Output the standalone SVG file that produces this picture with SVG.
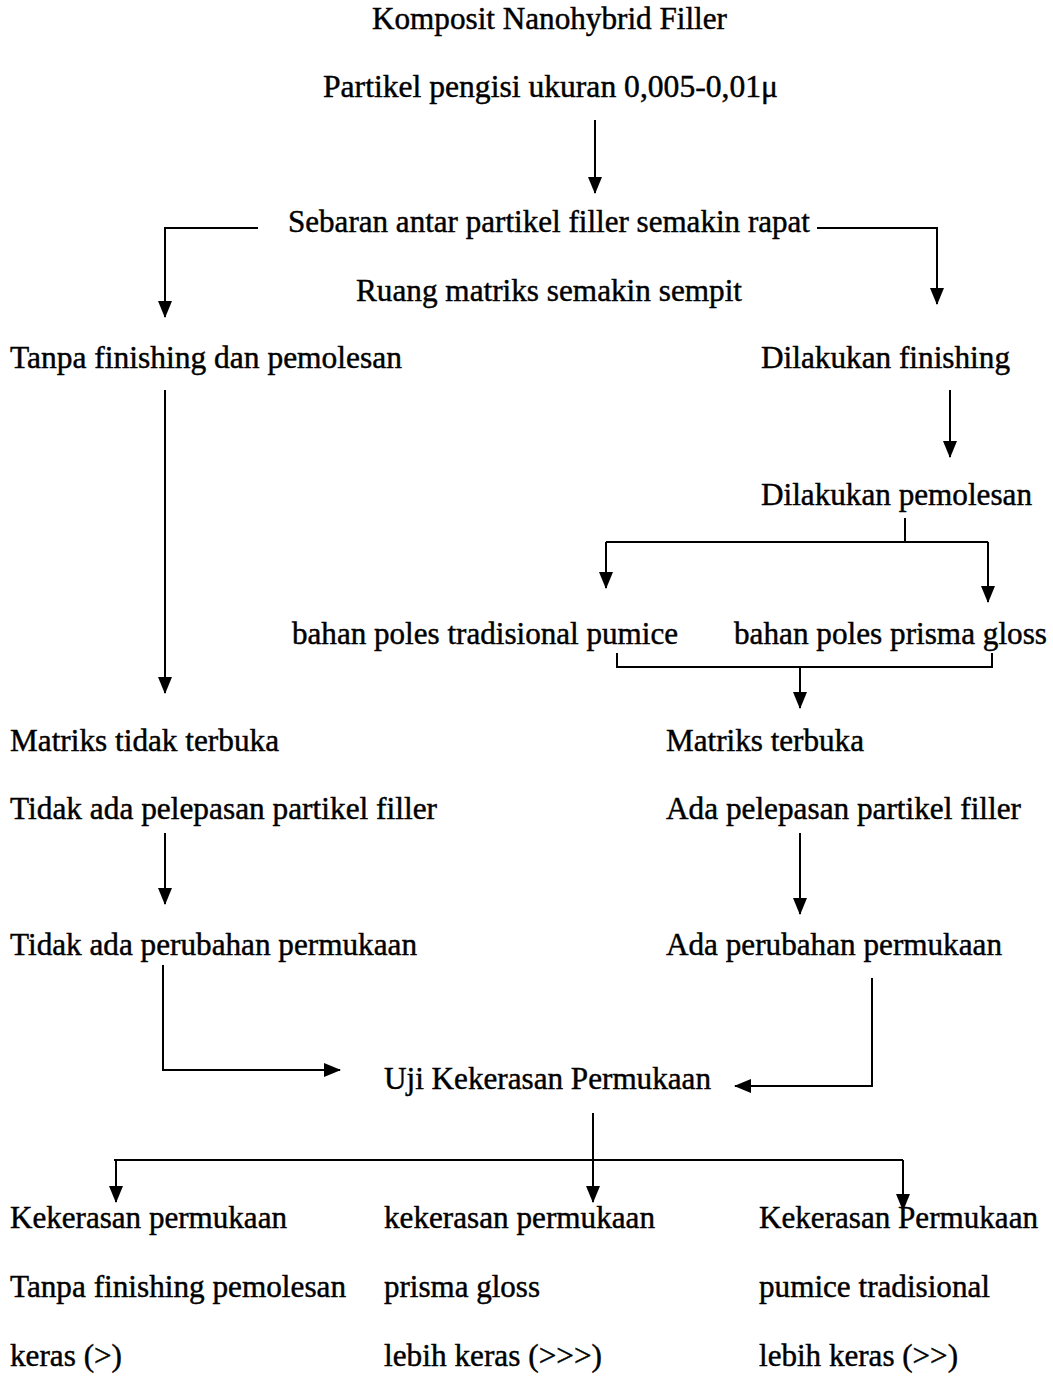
<svg xmlns="http://www.w3.org/2000/svg" width="1053" height="1378" viewBox="0 0 1053 1378">
<style>
text{font-family:"Liberation Serif","Times New Roman",serif;font-size:32px;fill:#000;stroke:#000;stroke-width:0.45}
.c{fill:none;stroke:#000;stroke-width:2}
</style>
<defs>
<marker id="ah" viewBox="0 0 17 14" refX="16" refY="7" markerWidth="17" markerHeight="14" markerUnits="userSpaceOnUse" orient="auto">
<path d="M0,0 L17,7 L0,14 z" fill="#000"/>
</marker>
</defs>
<rect width="1053" height="1378" fill="#fff"/>
<g id="n1"><text x="372" y="29" textLength="355" lengthAdjust="spacingAndGlyphs">Komposit Nanohybrid Filler</text></g>
<g id="n2"><text x="323" y="97" textLength="455" lengthAdjust="spacingAndGlyphs">Partikel pengisi ukuran 0,005-0,01μ</text></g>
<g id="n3"><text x="288" y="232" textLength="522" lengthAdjust="spacingAndGlyphs">Sebaran antar partikel filler semakin rapat</text>
<text x="356" y="301" textLength="386" lengthAdjust="spacingAndGlyphs">Ruang matriks semakin sempit</text></g>
<g id="n4"><text x="10" y="368" textLength="392" lengthAdjust="spacingAndGlyphs">Tanpa finishing dan pemolesan</text></g>
<g id="n5"><text x="761" y="368" textLength="249" lengthAdjust="spacingAndGlyphs">Dilakukan finishing</text></g>
<g id="n6"><text x="761" y="505" textLength="271" lengthAdjust="spacingAndGlyphs">Dilakukan pemolesan</text></g>
<g id="n7"><text x="292" y="644" textLength="386" lengthAdjust="spacingAndGlyphs">bahan poles tradisional pumice</text></g>
<g id="n8"><text x="734" y="644" textLength="313" lengthAdjust="spacingAndGlyphs">bahan poles prisma gloss</text></g>
<g id="n9"><text x="10" y="751" textLength="269" lengthAdjust="spacingAndGlyphs">Matriks tidak terbuka</text>
<text x="10" y="819" textLength="427" lengthAdjust="spacingAndGlyphs">Tidak ada pelepasan partikel filler</text></g>
<g id="n10"><text x="666" y="751" textLength="198" lengthAdjust="spacingAndGlyphs">Matriks terbuka</text>
<text x="666" y="819" textLength="355" lengthAdjust="spacingAndGlyphs">Ada pelepasan partikel filler</text></g>
<g id="n11"><text x="10" y="955" textLength="407" lengthAdjust="spacingAndGlyphs">Tidak ada perubahan permukaan</text></g>
<g id="n12"><text x="666" y="955" textLength="336" lengthAdjust="spacingAndGlyphs">Ada perubahan permukaan</text></g>
<g id="n13"><text x="384" y="1089" textLength="327" lengthAdjust="spacingAndGlyphs">Uji Kekerasan Permukaan</text></g>
<g id="n14"><text x="10" y="1228" textLength="277" lengthAdjust="spacingAndGlyphs">Kekerasan permukaan</text>
<text x="10" y="1297" textLength="336" lengthAdjust="spacingAndGlyphs">Tanpa finishing pemolesan</text>
<text x="10" y="1366" textLength="112" lengthAdjust="spacingAndGlyphs">keras (&gt;)</text></g>
<g id="n15"><text x="384" y="1228" textLength="271" lengthAdjust="spacingAndGlyphs">kekerasan permukaan</text>
<text x="384" y="1297" textLength="156" lengthAdjust="spacingAndGlyphs">prisma gloss</text>
<text x="384" y="1366" textLength="218" lengthAdjust="spacingAndGlyphs">lebih keras (&gt;&gt;&gt;)</text></g>
<g id="n16"><text x="759" y="1228" textLength="279" lengthAdjust="spacingAndGlyphs">Kekerasan Permukaan</text>
<text x="759" y="1297" textLength="231" lengthAdjust="spacingAndGlyphs">pumice tradisional</text>
<text x="759" y="1366" textLength="199" lengthAdjust="spacingAndGlyphs">lebih keras (&gt;&gt;)</text></g>
<g id="connectors">
<path class="c" d="M595,120 V193" marker-end="url(#ah)"/>
<path class="c" d="M258,228 H165 V317" marker-end="url(#ah)"/>
<path class="c" d="M817,228 H937 V304" marker-end="url(#ah)"/>
<path class="c" d="M165,390 V693" marker-end="url(#ah)"/>
<path class="c" d="M950,390 V457" marker-end="url(#ah)"/>
<path class="c" d="M905,518 V542"/>
<path class="c" d="M606,542 H988"/>
<path class="c" d="M606,542 V588" marker-end="url(#ah)"/>
<path class="c" d="M988,542 V602" marker-end="url(#ah)"/>
<path class="c" d="M617,653 V667 H992 V653"/>
<path class="c" d="M800,667 V708" marker-end="url(#ah)"/>
<path class="c" d="M165,833 V904" marker-end="url(#ah)"/>
<path class="c" d="M800,833 V914" marker-end="url(#ah)"/>
<path class="c" d="M163,965 V1070 H340" marker-end="url(#ah)"/>
<path class="c" d="M872,978 V1086 H735" marker-end="url(#ah)"/>
<path class="c" d="M593,1113 V1202" marker-end="url(#ah)"/>
<path class="c" d="M114,1160 H903"/>
<path class="c" d="M116,1160 V1202" marker-end="url(#ah)"/>
<path class="c" d="M903,1160 V1210" marker-end="url(#ah)"/>
</g>
</svg>
